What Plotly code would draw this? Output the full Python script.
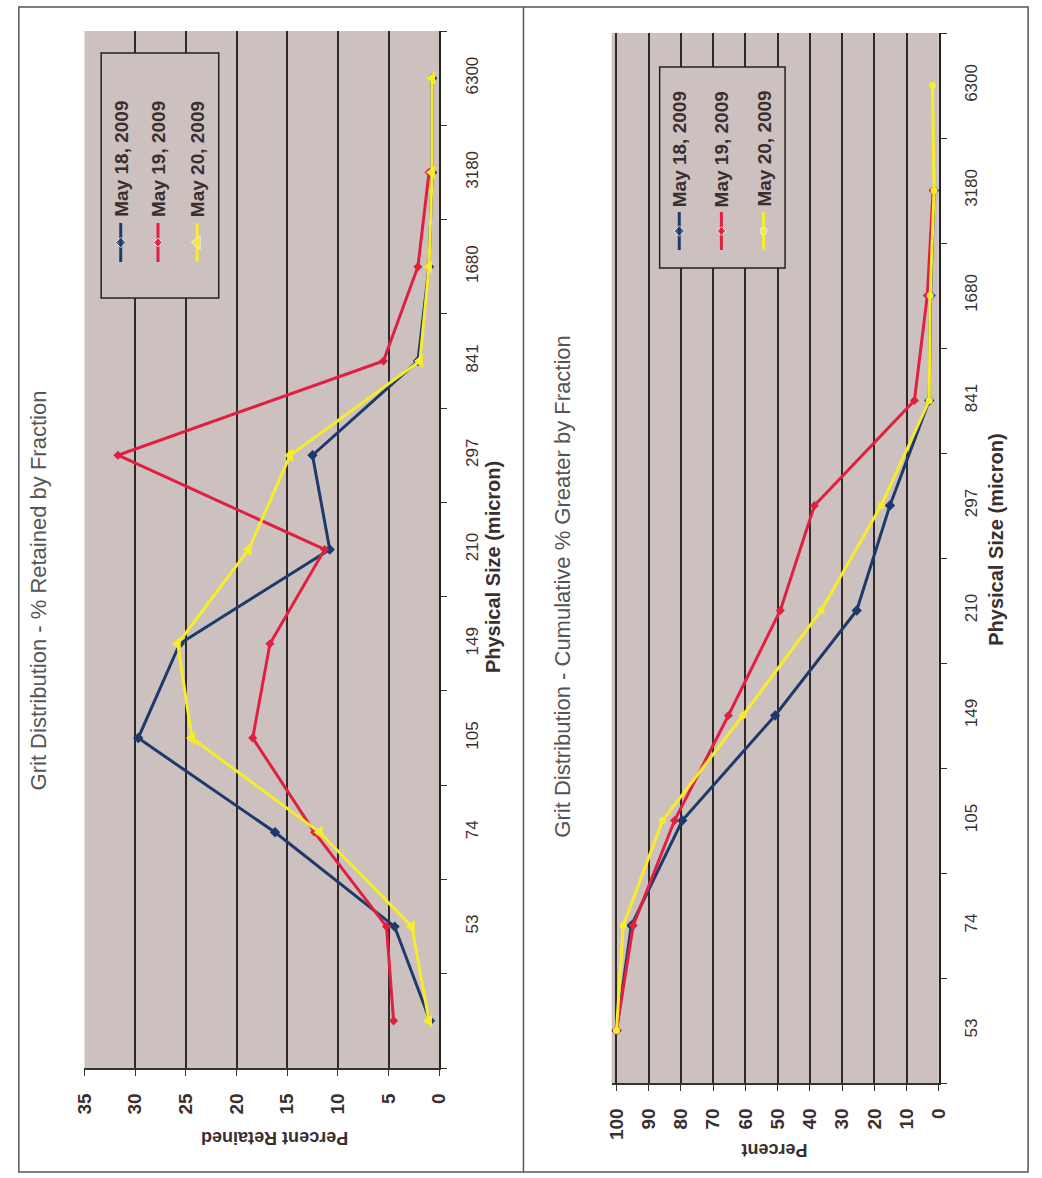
import plotly.graph_objects as go

# ---- data -------------------------------------------------------------
size_labels_retained = ["", "53", "74", "105", "149", "210", "297", "841", "1680", "3180", "6300"]
retained_may18 = [0.9, 4.4, 16.2, 29.7, 25.6, 10.8, 12.5, 2.1, 1.0, 0.7, 0.7]
retained_may19 = [4.5, 5.2, 12.3, 18.4, 16.7, 11.3, 31.7, 5.5, 2.1, 1.0, None]
retained_may20 = [1.0, 2.7, 11.8, 24.4, 25.8, 18.8, 14.7, 1.9, 1.0, 0.7, 0.7]

size_labels_cum = ["53", "74", "105", "149", "210", "297", "841", "1680", "3180", "6300"]
cum_may18 = [100, 95.4, 79.6, 50.8, 25.5, 15.2, 3.0, 2.6, 1.5, None]
cum_may19 = [100, 94.8, 82.0, 65.3, 49.2, 38.6, 7.6, 3.6, 1.8, None]
cum_may20 = [100, 97.9, 85.7, 60.8, 36.5, 17.9, 3.0, 2.7, 1.5, 2.0]

series_names = ["May 18, 2009", "May 19, 2009", "May 20, 2009"]
pct_ticks_retained = [0, 5, 10, 15, 20, 25, 30, 35]
pct_ticks_cum = [0, 10, 20, 30, 40, 50, 60, 70, 80, 90, 100]

# ---- styling ----------------------------------------------------------
W, H = 1042, 1178
BLUE, RED, YELLOW = "#1c3a6c", "#e02040", "#f6ec2a"
PLOT_BG = "#cdc1c0"
GRID = "#2e2a2a"
INK = "#3a2f2f"
FONT = "Liberation Sans, Arial, sans-serif"


def fx(px):
    return px / W


def fy(py):
    return 1 - py / H


fig = go.Figure()

# ---- left chart: % retained by fraction --------------------------------
idx_r = list(range(len(size_labels_retained)))
for vals, col, sym, msize in [
    (retained_may18, BLUE, "diamond", 8),
    (retained_may19, RED, "diamond", 7),
    (retained_may20, YELLOW, "triangle-left", 12),
]:
    fig.add_trace(go.Scatter(
        x=vals, y=idx_r, mode="lines+markers", xaxis="x", yaxis="y",
        line=dict(color=col, width=3), marker=dict(color=col, symbol=sym, size=msize),
        showlegend=False,
    ))

# ---- right chart: cumulative % greater -----------------------------------
idx_c = list(range(len(size_labels_cum)))
for vals, col, sym, msize in [
    (cum_may18, BLUE, "diamond", 8),
    (cum_may19, RED, "diamond", 7),
    (cum_may20, YELLOW, "circle", 7),
]:
    fig.add_trace(go.Scatter(
        x=vals, y=idx_c, mode="lines+markers", xaxis="x2", yaxis="y2",
        line=dict(color=col, width=3), marker=dict(color=col, symbol=sym, size=msize),
        showlegend=False,
    ))

# ---- rotated legends drawn on a full-page overlay axis ------------------
legend_boxes = [
    dict(box=(92, 53, 212, 298), cols=[112, 150, 190], line=(262, 223), text_start=219,
         syms=["diamond", "diamond", "triangle-left"], sizes=[8, 7, 12]),
    dict(box=(662, 67, 790, 268), cols=[682, 725, 768], line=(250, 212), text_start=209,
         syms=["diamond", "diamond", "circle"], sizes=[8, 7, 7]),
]
shapes = []
annotations = []
for lg in legend_boxes:
    x0, y0, x1, y1 = lg["box"]
    shapes.append(dict(type="rect", xref="x3", yref="y3", x0=x0, y0=y0, x1=x1, y1=y1,
                       fillcolor=PLOT_BG, line=dict(color="#222", width=1.5), layer="between"))
    for cx, col, name, sym, ms in zip(lg["cols"], [BLUE, RED, YELLOW], series_names,
                                      lg["syms"], lg["sizes"]):
        ya, yb = lg["line"]
        fig.add_trace(go.Scatter(
            x=[cx, cx, cx], y=[ya, (ya + yb) / 2, yb], mode="lines+markers",
            xaxis="x3", yaxis="y3", line=dict(color=col, width=3),
            marker=dict(color=col, symbol=sym, size=[0, ms, 0]), showlegend=False,
            hoverinfo="skip",
        ))
        annotations.append(dict(
            text=name, x=fx(cx), y=fy(lg["text_start"]), xref="paper", yref="paper",
            xanchor="center", yanchor="bottom", textangle=-90, showarrow=False,
            font=dict(family=FONT, size=19, color=INK, weight="bold"),
        ))

# plot backgrounds
for ax in ["x", "x2"]:
    yax = "y" if ax == "x" else "y2"
    shapes.append(dict(type="rect", xref=f"{ax} domain", yref=f"{yax} domain",
                       x0=0, x1=1, y0=0, y1=1, fillcolor=PLOT_BG, line=dict(width=0),
                       layer="below"))

# page frame
shapes += [
    dict(type="rect", xref="paper", yref="paper", x0=fx(8), x1=fx(1038), y0=fy(1172), y1=fy(7),
         line=dict(color="#555", width=1.5), fillcolor="rgba(0,0,0,0)"),
    dict(type="line", xref="paper", yref="paper", x0=fx(523), x1=fx(523), y0=fy(1172), y1=fy(7),
         line=dict(color="#555", width=1.5)),
]

# titles and axis captions (rotated page)
text_items = [
    ("Grit Distribution - % Retained by Fraction", 28, 590, -90, 22, "normal", "#555"),
    ("Grit Distribution - Cumulative % Greater by Fraction", 563, 586, -90, 22, "normal", "#555"),
    ("Physical Size (micron)", 492, 567, -90, 20, "bold", INK),
    ("Physical Size (micron)", 1005, 540, -90, 20, "bold", INK),
    ("Percent Retained", 269, 1138, 180, 18, "bold", INK),
    ("Percent", 779, 1150, 180, 18, "bold", INK),
]
for txt, px, py, ang, sz, wt, col in text_items:
    annotations.append(dict(
        text=txt, x=fx(px), y=fy(py), xref="paper", yref="paper", xanchor="center",
        yanchor="middle", textangle=ang, showarrow=False,
        font=dict(family=FONT, size=sz, color=col, weight=wt),
    ))


def pct_axis(domain, rng, ticks):
    return dict(
        domain=domain, range=rng, tickvals=ticks, ticktext=[str(t) for t in ticks],
        showgrid=True, gridcolor=GRID, gridwidth=2, zeroline=False,
        showline=True, linecolor="#333", linewidth=1.5,
        ticks="outside", ticklen=6, tickcolor="#333", tickangle=-90,
        ticklabelstandoff=10,
        tickfont=dict(family=FONT, size=19, color=INK, weight="bold"),
        fixedrange=True,
    )


def size_axis(domain, labels, anchor):
    n = len(labels)
    return dict(
        domain=domain, range=[-0.5, n - 0.5], side="right", anchor=anchor,
        tickvals=list(range(n)), ticktext=labels, ticks="", showgrid=False,
        zeroline=False, showline=True, linecolor="#222", linewidth=2,
        tickangle=-90, ticklabelstandoff=16,
        tickfont=dict(family=FONT, size=17, color=INK),
        minor=dict(tickvals=[i - 0.5 for i in range(n + 1)], ticks="outside",
                   ticklen=6, tickcolor="#333", showgrid=False),
        fixedrange=True,
    )


fig.update_layout(
    width=W, height=H, margin=dict(l=0, r=0, t=0, b=0),
    paper_bgcolor="white", plot_bgcolor="rgba(0,0,0,0)", showlegend=False,
    xaxis=dict(**pct_axis([fx(75), fx(437)], [35, 0], pct_ticks_retained), anchor="y"),
    yaxis=size_axis([fy(1068), fy(31)], size_labels_retained, "x"),
    xaxis2=dict(**pct_axis([fx(613), fx(947)], [101.5, 0], pct_ticks_cum), anchor="y2"),
    yaxis2=size_axis([fy(1083), fy(33)], size_labels_cum, "x2"),
    xaxis3=dict(domain=[0, 1], range=[0, W], visible=False, fixedrange=True, anchor="y3"),
    yaxis3=dict(domain=[0, 1], range=[H, 0], visible=False, fixedrange=True, anchor="x3"),
    shapes=shapes, annotations=annotations,
)

fig.write_html("out.html")
